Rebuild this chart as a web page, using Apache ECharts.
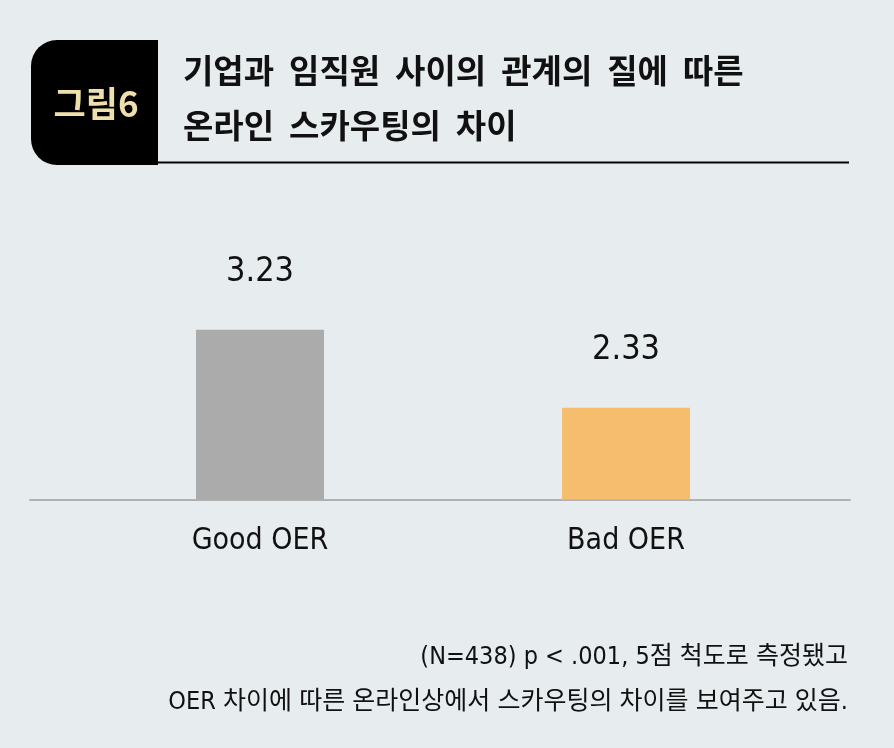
<!DOCTYPE html>
<html>
<head>
<meta charset="utf-8">
<script src="https://cdn.jsdelivr.net/npm/echarts@6/dist/echarts.min.js"></script>
<style>
html,body{margin:0;padding:0;background:#e7ecef;}
#c{width:894px;height:748px;}
</style>
</head>
<body>
<div id="c"></div>
<script>
const categories = ['Good OER', 'Bad OER'];
const values = [3.23, 2.33];
const barColors = ['#aaabaa', '#f6bd6e'];
const badgeText = '그림6';
const titleLines = ['기업과  임직원  사이의  관계의  질에  따른', '온라인  스카우팅의  차이'];
const noteLines = ['(N=438) p < .001, 5점 척도로 측정됐고', 'OER 차이에 따른 온라인상에서 스카우팅의 차이를 보여주고 있음.'];

const narrow = "'Liberation Sans Narrow', 'DejaVu Sans Condensed', 'Noto Sans CJK KR', sans-serif";
const chart = echarts.init(document.getElementById('c'));
chart.setOption({
  backgroundColor: '#e7ecef',
  animation: false,
  title: [
    {
      text: titleLines.join('\n'),
      left: 183, top: 43, padding: 0,
      textStyle: { fontFamily: "'Noto Sans CJK KR', sans-serif", fontWeight: 'bold', fontSize: 33, lineHeight: 55, color: '#111' }
    }
  ],
  graphic: [
    { type: 'rect', shape: { x: 31, y: 40, width: 127, height: 125, r: [26, 0, 0, 26] }, style: { fill: '#000' } },
    { type: 'line', shape: { x1: 158, y1: 162.5, x2: 849, y2: 162.5 }, style: { stroke: '#000', lineWidth: 2 } },
    { type: 'text', x: 96, y: 104, style: { text: badgeText, fill: '#efdfad', font: "bold 35px 'Noto Sans CJK KR'", align: 'center', verticalAlign: 'middle' } },
    { type: 'text', x: 848, y: 657, style: { text: noteLines[0], fill: '#111', font: "25px " + narrow, align: 'right', verticalAlign: 'middle' } },
    { type: 'text', x: 848, y: 702, style: { text: noteLines[1], fill: '#111', font: "25px " + narrow, align: 'right', verticalAlign: 'middle' } }
  ],
  grid: [
    { left: 77, right: 85, top: 176.5, bottom: 248.5 },
    { left: 30, right: 44, top: 176.5, bottom: 248.5 }
  ],
  xAxis: [
    {
      type: 'category', data: categories, gridIndex: 0,
      axisLine: { show: false }, axisTick: { show: false },
      axisLabel: { margin: 27, fontFamily: narrow, fontSize: 30, color: '#111' }
    },
    {
      type: 'category', data: [], gridIndex: 1,
      axisLine: { show: true, lineStyle: { color: '#b0b1b2', width: 2 } },
      axisTick: { show: false }, axisLabel: { show: false }
    }
  ],
  yAxis: [
    { type: 'value', min: 1.27, max: 5, gridIndex: 0, show: false, splitLine: { show: false } },
    { type: 'value', min: 0, max: 1, gridIndex: 1, show: false, splitLine: { show: false } }
  ],
  series: [{
    type: 'bar',
    xAxisIndex: 0, yAxisIndex: 0,
    barWidth: 128,
    data: values.map((v, i) => ({ value: v, itemStyle: { color: barColors[i] } })),
    label: {
      show: true, position: 'top', distance: 41,
      fontFamily: narrow, fontSize: 34, color: '#111',
      formatter: p => p.value.toFixed(2)
    }
  }]
});
</script>
</body>
</html>
